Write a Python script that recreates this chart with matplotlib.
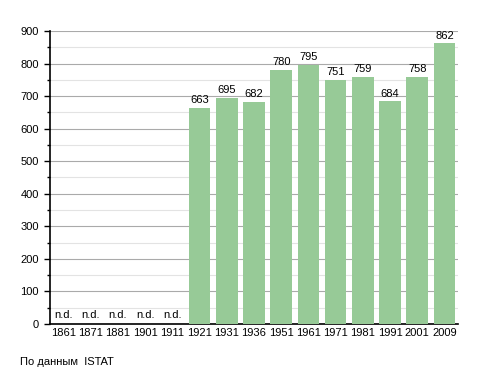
import numpy as np
import matplotlib.pyplot as plt
from matplotlib.ticker import MultipleLocator

plt.rcParams['font.family'] = ['Liberation Sans', 'DejaVu Sans']

years = ['1861', '1871', '1881', '1901', '1911', '1921', '1931', '1936',
         '1951', '1961', '1971', '1981', '1991', '2001', '2009']
population = [None, None, None, None, None, 663, 695, 682,
              780, 795, 751, 759, 684, 758, 862]

fig = plt.figure(figsize=(4.88, 3.73), dpi=100)
ax = fig.add_axes([0.1025, 0.1314, 0.836, 0.7855])

x = np.arange(len(years))
heights = [v if v is not None else 0 for v in population]
ax.bar(x, heights, width=0.8, color='#97ca97', zorder=3)

for xi, v in zip(x, population):
    if v is None:
        ax.text(xi, 12, 'n.d.', ha='center', va='bottom', fontsize=8, zorder=4)
    else:
        ax.annotate(str(v), (xi, v), xytext=(0, 2), textcoords='offset points',
                    ha='center', va='bottom', fontsize=8, zorder=4)

ax.set_xlim(-0.5, len(years) - 0.5)
ax.set_ylim(0, 900)
ax.set_xticks(x)
ax.set_xticklabels(years, fontsize=8)
ax.tick_params(axis='x', length=0, pad=3)
ax.yaxis.set_major_locator(MultipleLocator(100))
ax.yaxis.set_minor_locator(MultipleLocator(50))
ax.tick_params(axis='y', which='major', length=4, width=1, labelsize=8, pad=4)
ax.tick_params(axis='y', which='minor', length=2, width=1)

ax.grid(axis='y', which='major', color='#aaaaaa', linewidth=0.8, zorder=0)
ax.grid(axis='y', which='minor', color='#e3e3e3', linewidth=0.8, zorder=0)

for side in ['top', 'right']:
    ax.spines[side].set_visible(False)
ax.spines['left'].set_linewidth(1.2)
ax.spines['bottom'].set_linewidth(1.2)

fig.text(20 / 488, 1 - 362 / 373, 'По данным  ISTAT', fontsize=8, va='center', ha='left')

fig.savefig('out.png', dpi=100)
